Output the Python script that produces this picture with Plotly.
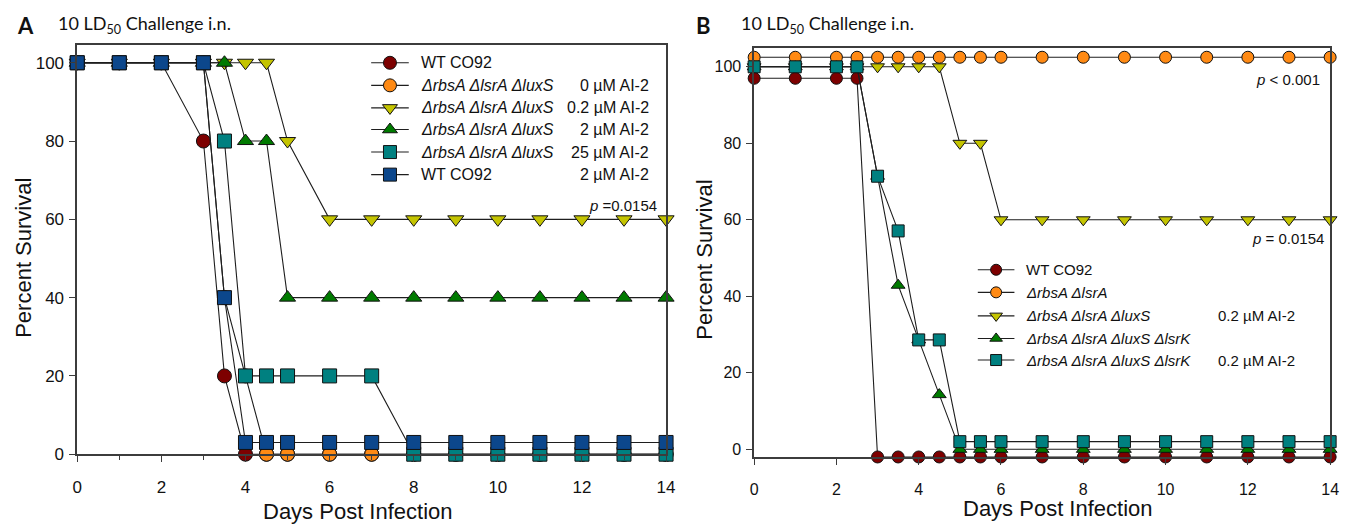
import plotly.graph_objects as go

# ---------------- data ----------------
# Panel A: days post infection and percent survival per group
days_a = [0, 1, 2, 3, 3.5, 4, 4.5, 5, 6, 7, 8, 9, 10, 11, 12, 13, 14]
wt_a = [100, 100, 100, 80, 20, 0, 0, 0, 0, 0, 0, 0, 0, 0, 0, 0, 0]
triple_0_a = [100, 100, 100, 100, 40, 20, 0, 0, 0, 0, 0, 0, 0, 0, 0, 0, 0]
triple_02_a = [100, 100, 100, 100, 100, 100, 100, 80, 60, 60, 60, 60, 60, 60, 60, 60, 60]
triple_2_a = [100, 100, 100, 100, 100, 80, 80, 40, 40, 40, 40, 40, 40, 40, 40, 40, 40]
triple_25_a = [100, 100, 100, 100, 80, 20, 20, 20, 20, 20, 0, 0, 0, 0, 0, 0, 0]
wt_2_a = [100, 100, 100, 100, 40, 3, 3, 3, 3, 3, 3, 3, 3, 3, 3, 3, 3]

# Panel B
days_b = [0, 1, 2, 2.5, 3, 3.5, 4, 4.5, 5, 5.5, 6, 7, 8, 9, 10, 11, 12, 13, 14]
wt_b = [97, 97, 97, 97, -2, -2, -2, -2, -2, -2, -2, -2, -2, -2, -2, -2, -2, -2, -2]
double_b = [102.5, 102.5, 102.5, 102.5, 102.5, 102.5, 102.5, 102.5, 102.5, 102.5,
            102.5, 102.5, 102.5, 102.5, 102.5, 102.5, 102.5, 102.5, 102.5]
triple_02_b = [100, 100, 100, 100, 100, 100, 100, 100, 80, 80, 60, 60, 60, 60, 60, 60, 60, 60, 60]
quad_b = [100, 100, 100, 100, 71.4, 42.9, 28.6, 14.3, 0, 0, 0, 0, 0, 0, 0, 0, 0, 0, 0]
quad_02_b = [100, 100, 100, 100, 71.4, 57.1, 28.6, 28.6, 2, 2, 2, 2, 2, 2, 2, 2, 2, 2, 2]

y_ticks = [0, 20, 40, 60, 80, 100]
x_ticks = [0, 2, 4, 6, 8, 10, 12, 14]

TRIPLE = "<i>ΔrbsA ΔlsrA ΔluxS</i>"
QUAD = "<i>ΔrbsA ΔlsrA ΔluxS ΔlsrK</i>"

labels_a = ["WT CO92", TRIPLE, TRIPLE, TRIPLE, TRIPLE, "WT CO92"]
conc_a = ["", "0 µM AI-2", "0.2 µM AI-2", "2 µM AI-2", "25 µM AI-2", "2 µM AI-2"]
labels_b = ["WT CO92", "<i>ΔrbsA ΔlsrA</i>", TRIPLE, QUAD, QUAD]
conc_b = ["", "", "0.2 µM AI-2", "", "0.2 µM AI-2"]

# ---------------- styles ----------------
RED, ORANGE, YELLOW = "#7d0000", "#ff8a14", "#c4c400"
GREEN, TEAL, BLUE = "#007a00", "#008080", "#0c478c"
LINE = "#1e1e1e"
AXIS = "#3c3c3c"
ARIAL = "Arial"
CAL = "Lato"

W, H = 1351, 527

series_a = [
    (wt_a, "circle", RED),
    (triple_0_a, "circle", ORANGE),
    (triple_02_a, "triangle-down", YELLOW),
    (triple_2_a, "triangle-up", GREEN),
    (triple_25_a, "square", TEAL),
    (wt_2_a, "square", BLUE),
]
series_b = [
    (wt_b, "circle", RED),
    (double_b, "circle", ORANGE),
    (triple_02_b, "triangle-down", YELLOW),
    (quad_b, "triangle-up", GREEN),
    (quad_02_b, "square", TEAL),
]

fig = go.Figure()


def marker(sym, col, size):
    return dict(symbol=sym, color=col, size=size, line=dict(color="#111111", width=1))


for vals, sym, col in series_a:
    fig.add_trace(go.Scatter(
        x=days_a, y=vals, mode="lines+markers", xaxis="x", yaxis="y",
        line=dict(color=LINE, width=1.1), marker=marker(sym, col, 14),
        cliponaxis=False, showlegend=False, hoverinfo="skip"))

for vals, sym, col in series_b:
    fig.add_trace(go.Scatter(
        x=days_b, y=vals, mode="lines+markers", xaxis="x2", yaxis="y2",
        line=dict(color=LINE, width=1.1), marker=marker(sym, col, 12),
        cliponaxis=False, showlegend=False, hoverinfo="skip"))

# ---------------- hand-built legends (pixel overlay axis) ----------------
annotations = []


def legend(series, labels, concs, rows, x0, x1, text_x, conc_x, msize, fsize):
    for (vals, sym, col), lab, conc, ry in zip(series, labels, concs, rows):
        fig.add_trace(go.Scatter(
            x=[x0, x1], y=[ry, ry], mode="lines", xaxis="x3", yaxis="y3",
            line=dict(color=LINE, width=1.1), showlegend=False, hoverinfo="skip"))
        fig.add_trace(go.Scatter(
            x=[(x0 + x1) / 2], y=[ry], mode="markers", xaxis="x3", yaxis="y3",
            marker=marker(sym, col, msize), showlegend=False, hoverinfo="skip"))
        annotations.append(dict(
            x=text_x, y=ry, xref="x3", yref="y3", text=lab, showarrow=False,
            xanchor="left", yanchor="middle", font=dict(family=ARIAL, size=fsize, color="#111111")))
        if conc:
            annotations.append(dict(
                x=conc_x, y=ry, xref="x3", yref="y3", text=conc, showarrow=False,
                xanchor="right", yanchor="middle",
                font=dict(family=ARIAL, size=fsize, color="#111111")))


legend(series_a, labels_a, conc_a, [64, 87, 110, 132, 155, 178],
       370, 408, 418, 653, 13, 16)
legend(series_b, labels_b, conc_b, [275, 298, 322, 345, 367],
       983, 1020, 1030, 1306, 11, 15)


# ---------------- text ----------------
def txt(x, y, s, size, family=ARIAL, xanchor="left", angle=0, color="#111111"):
    annotations.append(dict(
        x=x / W, y=1 - y / H, xref="paper", yref="paper", text=s, showarrow=False,
        xanchor=xanchor, yanchor="middle", textangle=angle,
        font=dict(family=family, size=size, color=color)))


txt(10, 26, "<b>A</b>", 22, CAL)
txt(52, 25, "10 LD<sub>50</sub> Challenge i.n.", 18, CAL)
txt(696, 26, "<b>B</b>", 22, CAL)
txt(742, 25, "10 LD<sub>50</sub> Challenge i.n.", 18, CAL)

txt(661, 209, "<i>p</i> =0.0154", 15, xanchor="right")
txt(1331, 81, "<i>p</i> < 0.001", 15, xanchor="right")
txt(1335, 243, "<i>p</i> = 0.0154", 15, xanchor="right")

txt(357, 521, "Days Post Infection", 22, xanchor="center")
txt(1064, 518, "Days Post Infection", 22, xanchor="center")
txt(18, 263, "Percent Survival", 22, xanchor="center", angle=-90)
txt(707, 265, "Percent Survival", 22, xanchor="center", angle=-90)


# ---------------- axes ----------------
def xax(domain, anchor, minor, size):
    d = dict(domain=domain, anchor=anchor, range=[0, 14], tickvals=x_ticks,
             showline=True, mirror=True, linecolor=AXIS, linewidth=1.5,
             ticks="outside", ticklen=6, tickcolor=AXIS, tickwidth=1.3,
             ticklabelstandoff=11,
             showgrid=False, zeroline=False,
             tickfont=dict(family=ARIAL, size=size, color="#111111"))
    if minor:
        d["minor"] = dict(dtick=1, ticks="outside", ticklen=4, tickcolor=AXIS,
                          tickwidth=1.2, showgrid=False)
    return d


def yax(domain, anchor, rng, size):
    return dict(domain=domain, anchor=anchor, range=rng, tickvals=y_ticks,
                showline=True, mirror=True, linecolor=AXIS, linewidth=1.5,
                ticks="outside", ticklen=6, tickcolor=AXIS, tickwidth=1.3,
                ticklabelstandoff=2,
                showgrid=False, zeroline=False,
                tickfont=dict(family=ARIAL, size=size, color="#111111"))


fig.update_layout(
    width=W, height=H,
    margin=dict(l=0, r=0, t=0, b=0),
    paper_bgcolor="white", plot_bgcolor="rgba(0,0,0,0)",
    showlegend=False,
    xaxis=xax([73 / W, 668 / W], "y", True, 17),
    yaxis=yax([1 - 463 / H, 1 - 46 / H], "x", [0, 104.5], 17),
    xaxis2=xax([757 / W, 1339 / W], "y2", False, 16),
    yaxis2=yax([1 - 466 / H, 1 - 49 / H], "x2", [-2.05, 104.9], 16),
    xaxis3=dict(domain=[0, 1], anchor="y3", range=[0, W], visible=False, fixedrange=True),
    yaxis3=dict(domain=[0, 1], anchor="x3", range=[H, 0], visible=False, fixedrange=True),
    annotations=annotations,
)

fig.write_html("out.html")
